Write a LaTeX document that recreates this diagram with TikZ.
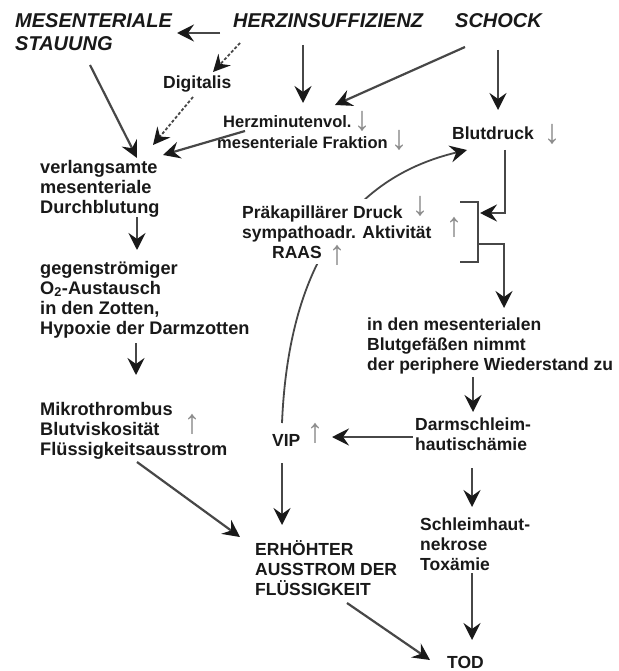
\documentclass[tikz,border=0pt]{standalone}
\usepackage{fontspec}
\setmainfont{Liberation Sans}
\usetikzlibrary{arrows.meta,backgrounds}

\begin{document}
\begin{tikzpicture}[x=1pt,y=-1pt,
  txt/.style={font=\bfseries\fontsize{17.5}{20}\selectfont, text=black!90,
    align=left, anchor=base west, inner sep=0pt},
  wide/.style={txt, font=\bfseries\fontsize{18.2}{20}\selectfont},
  head/.style={txt, font=\bfseries\itshape\fontsize{20}{23}\selectfont},
  trend/.style={font=\mdseries\fontsize{34}{34}\selectfont, text=black!45, inner sep=0pt},
  link/.style={draw=black!72, line width=2.2pt,
    -{Stealth[length=17pt,width=17pt,inset=6pt,color=black!90]}},
  dlink/.style={link, line width=1.8pt, dash pattern=on 3pt off 2pt},
  bracket/.style={draw=black!72, line width=2.4pt},
]
\useasboundingbox (0,0) rectangle (618,671);

% causes (multi-line nodes are anchored at the baseline of their last line)
\node[head] (stau)   at (15,51)  {MESENTERIALE\\STAUUNG};
\node[head] (herz)   at (233,28) {HERZINSUFFIZIENZ};
\node[head] (schock) at (455,28) {SCHOCK};

% intermediate states
\node[txt] (dig) at (163,89) {Digitalis};
\node[txt, font=\bfseries\fontsize{16.5}{21}\selectfont] (hmv) at (217,149)
  {\hspace*{6pt}Herzminutenvol.\\mesenteriale Fraktion};
\node[txt] (bd) at (452,140) {Blutdruck};
\node[wide] (verl) at (40,213) {verlangsamte\\mesenteriale\\Durchblutung};
\node[wide] (gegen) at (40,334)
  {gegenströmiger\\O\textsubscript{2}-Austausch\\in den Zotten,\\Hypoxie der Darmzotten};
\node[wide] (mikro) at (40,455) {Mikrothrombus\\Blutviskosität\\Flüssigkeitsausstrom};
\node[txt, fill=white, inner ysep=6pt] (praek) at (242,258)
  {Präkapillärer Druck\\sympathoadr. Aktivität\\\hspace*{30pt}RAAS};
\node[txt] (mesgef) at (367,370)
  {in den mesenterialen\\Blutgefäßen nimmt\\der periphere Wiederstand zu};
\node[txt] (darm) at (415,450) {Darmschleim-\\hautischämie};
\node[txt] (vip)  at (272,446) {VIP};
\node[txt] (erh)  at (255,595) {ERHÖHTER\\AUSSTROM DER\\FLÜSSIGKEIT};
\node[txt] (schl) at (420,570) {Schleimhaut-\\nekrose\\Toxämie};
\node[txt] (tod)  at (447,668.5) {TOD};

% rising / falling markers
\node[trend] (hmvA)  at (362,121) {↓};
\node[trend] (hmvB)  at (399,140) {↓};
\node[trend] (bdA)   at (552,134) {↓};
\node[trend] (prA)   at (420,206) {↓};
\node[trend] (prB)   at (454,227) {↑};
\node[trend] (prC)   at (337,255) {↑};
\node[trend] (mikA)  at (192,424) {↑};
\node[trend] (vipA)  at (315,433) {↑};

% bracket gathering the pressure / sympathetic block
\coordinate (brTop) at (460,202);
\coordinate (brBot) at (460,262);
\coordinate (brIn)  at (480,213);
\coordinate (brOut) at (478,244);
\draw[bracket] (brTop) -- ++(18,0) |- (brBot);

% connectors
\draw[link]  ([shift={(-13,5)}]herz.base west) -- ([shift={(162,-18)}]stau.base west);
\draw[dlink] ([shift={(7,15)}]herz.base west) -- ([shift={(50,-17)}]dig.base west);
\draw[dlink] ([shift={(30,8)}]dig.base west) -- ([shift={(113,-68)}]verl.base west);
\draw[link]  ([shift={(75,14)}]stau.base west) -- ([shift={(97,-55)}]verl.base west);
\draw[link]  ([shift={(28,-18)}]hmv.base west) -- ([shift={(123,-58)}]verl.base west);
\draw[link]  ([shift={(70,17)}]herz.base west) -- ([shift={(86,-46)}]hmv.base west);
\draw[link]  ([shift={(10,19)}]schock.base west) -- ([shift={(118,-44)}]hmv.base west);
\draw[link]  ([shift={(43,22)}]schock.base west) -- ([shift={(46,-30)}]bd.base west);
\draw[link]  ([shift={(97,4)}]verl.base west) -- ([shift={(97,-84)}]gegen.base west);
\draw[link]  ([shift={(96,9)}]gegen.base west) -- ([shift={(96,-80)}]mikro.base west);
\draw[link]  ([shift={(97,7)}]mikro.base west) -- ([shift={(-15,-58)}]erh.base west);
\draw[link]  ([shift={(92,8)}]erh.base west) -- ([shift={(-17,-8.5)}]tod.base west);
\draw[link]  ([shift={(52,3)}]schl.base west) -- ([shift={(25,-28.5)}]tod.base west);
\draw[link]  ([shift={(57,18)}]darm.base west) -- ([shift={(52,-63)}]schl.base west);
\draw[link]  ([shift={(-2,-13)}]darm.base west) -- ([shift={(60,-9)}]vip.base west);
\draw[link]  ([shift={(10,17)}]vip.base west) -- ([shift={(27,-70)}]erh.base west);
\draw[link]  ([shift={(106,7)}]mesgef.base west) -- ([shift={(58,-38)}]darm.base west);
\draw[link]  ([shift={(53,10)}]bd.base west) |- (brIn);
\draw[link]  (brOut) -| ([shift={(137,-62)}]mesgef.base west);

% feedback loop from VIP back to the blood pressure, passing behind the text block
\begin{pgfonlayer}{background}
  \fill[white] (0,0) rectangle (618,671);
  \draw[link, line width=1.8pt] ([shift={(10,-23)}]vip.base west)
    .. controls (288,280) and (340,180) .. ([shift={(15,10)}]bd.base west);
\end{pgfonlayer}
\end{tikzpicture}
\end{document}
